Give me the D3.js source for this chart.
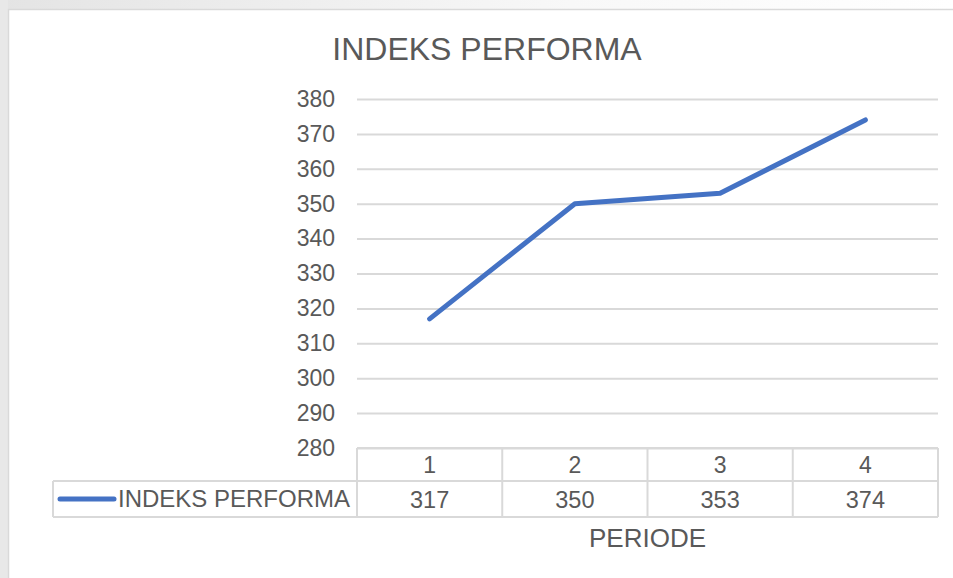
<!DOCTYPE html>
<html>
<head>
<meta charset="utf-8">
<script src="https://cdn.jsdelivr.net/npm/d3@7"></script>
<style>
  html, body { margin: 0; padding: 0; background: #fff; }
  svg { display: block; font-family: "Liberation Sans", Arial, sans-serif; }
</style>
</head>
<body>
<div id="chart"></div>
<script>
const title = "INDEKS PERFORMA";
const seriesName = "INDEKS PERFORMA";
const axisTitle = "PERIODE";
const periods = ["1", "2", "3", "4"];
const values = [317, 350, 353, 374];
const yTicks = [280, 290, 300, 310, 320, 330, 340, 350, 360, 370, 380];

const width = 953;
const height = 578;
const textColor = "#595959";
const gridColor = "#d9d9d9";
const lineColor = "#4472C4";

const plotLeft = 357, plotRight = 938, plotTop = 99, plotBottom = 448;
const rowH1 = 33, rowH2 = 36;
const legendLeft = 53;

const svg = d3.select("#chart").append("svg")
  .attr("width", width)
  .attr("height", height);

// outer frame
const defs = svg.append("defs");
const grad = defs.append("linearGradient").attr("id", "topfade");
grad.append("stop").attr("offset", "0%").attr("stop-color", "#e4e4e4");
grad.append("stop").attr("offset", "60%").attr("stop-color", "#f8f8f8");
grad.append("stop").attr("offset", "100%").attr("stop-color", "#ffffff");
svg.append("rect").attr("x", 0).attr("y", 0).attr("width", width).attr("height", 9).attr("fill", "url(#topfade)");
svg.append("rect").attr("x", 0).attr("y", 0).attr("width", 8).attr("height", height).attr("fill", "#e8e8e8");
svg.append("path")
  .attr("d", `M8.5,${height}V9.5H${width}`)
  .attr("fill", "none").attr("stroke", gridColor).attr("stroke-width", 1.5);

// title
svg.append("text")
  .attr("x", 487).attr("y", 60)
  .attr("text-anchor", "middle")
  .attr("fill", textColor)
  .attr("font-size", 32)
  .text(title);

const x = d3.scaleBand()
  .domain(periods)
  .range([plotLeft, plotRight]);

const y = d3.scaleLinear()
  .domain([280, 380])
  .range([plotBottom, plotTop]);

// gridlines + y labels
svg.append("g")
  .attr("transform", `translate(${plotLeft},0)`)
  .call(d3.axisLeft(y).tickValues(yTicks).tickSize(0).tickPadding(22))
  .call(g => g.select(".domain").remove())
  .call(g => g.selectAll(".tick text")
      .attr("fill", textColor)
      .attr("font-size", 23)
      .attr("font-family", "Liberation Sans, Arial, sans-serif"))
  .call(g => g.selectAll(".tick line")
      .attr("x2", plotRight - plotLeft)
      .attr("stroke", gridColor)
      .attr("stroke-width", 2));

// data table
const table = svg.append("g")
  .attr("fill", "none")
  .attr("stroke", gridColor)
  .attr("stroke-width", 2);
const r1 = plotBottom, r2 = plotBottom + rowH1, r3 = plotBottom + rowH1 + rowH2;
table.append("line").attr("x1", plotLeft).attr("x2", plotRight).attr("y1", r1).attr("y2", r1);
table.append("line").attr("x1", legendLeft).attr("x2", plotRight).attr("y1", r2).attr("y2", r2);
table.append("line").attr("x1", legendLeft).attr("x2", plotRight).attr("y1", r3).attr("y2", r3);
table.append("line").attr("x1", legendLeft).attr("x2", legendLeft).attr("y1", r2).attr("y2", r3);
table.selectAll(".col")
  .data([...periods.map(p => x(p)), plotRight])
  .join("line")
    .attr("x1", d => d).attr("x2", d => d)
    .attr("y1", r1).attr("y2", r3);

svg.append("g")
  .selectAll("text")
  .data(periods)
  .join("text")
    .attr("x", d => x(d) + x.bandwidth() / 2)
    .attr("y", r1 + 25)
    .attr("text-anchor", "middle")
    .attr("fill", textColor)
    .attr("font-size", 23)
    .text(d => d);

svg.append("g")
  .selectAll("text")
  .data(values)
  .join("text")
    .attr("x", (d, i) => x(periods[i]) + x.bandwidth() / 2)
    .attr("y", r2 + 27)
    .attr("text-anchor", "middle")
    .attr("fill", textColor)
    .attr("font-size", 23.5)
    .text(d => d);

// legend key inside table
svg.append("line")
  .attr("x1", 60).attr("x2", 114)
  .attr("y1", r2 + 18).attr("y2", r2 + 18)
  .attr("stroke", lineColor)
  .attr("stroke-width", 5)
  .attr("stroke-linecap", "round");
svg.append("text")
  .attr("x", 118).attr("y", r2 + 26)
  .attr("fill", textColor)
  .attr("font-size", 24)
  .text(seriesName);

// axis title
svg.append("text")
  .attr("x", (plotLeft + plotRight) / 2).attr("y", 547)
  .attr("text-anchor", "middle")
  .attr("fill", textColor)
  .attr("font-size", 26)
  .text(axisTitle);

// line
const line = d3.line()
  .x((d, i) => x(periods[i]) + x.bandwidth() / 2)
  .y(d => y(d));

svg.append("path")
  .datum(values)
  .attr("d", line)
  .attr("fill", "none")
  .attr("stroke", lineColor)
  .attr("stroke-width", 5)
  .attr("stroke-linecap", "round")
  .attr("stroke-linejoin", "round");
</script>
</body>
</html>
